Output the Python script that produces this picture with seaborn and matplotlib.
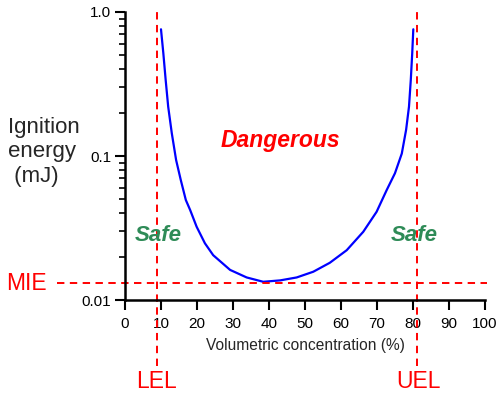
import matplotlib
matplotlib.use("Agg")
import matplotlib.pyplot as plt
import matplotlib.ticker as mticker
import pandas as pd
import seaborn as sns

# ignition energy curve
conc = [10.0, 10.65, 11.3, 12.0, 13.0, 14.2, 15.5, 16.9, 18.1, 19.9, 22.2,
        24.5, 29.2, 33.8, 38.4, 43.1, 47.7, 52.3, 56.9, 61.6, 66.2, 69.9,
        72.7, 75.0, 76.9, 78.1, 78.9, 79.4, 79.8, 80.1]
energy = [0.758, 0.517, 0.337, 0.220, 0.144, 0.0938, 0.0681, 0.0495, 0.0422,
          0.0323, 0.0248, 0.0205, 0.0162, 0.01436, 0.01340, 0.01370, 0.01436,
          0.01573, 0.01815, 0.0222, 0.0298, 0.0410, 0.058, 0.0759, 0.104,
          0.152, 0.220, 0.337, 0.517, 0.758]

lel = 8.8
uel = 81.2
mie = 0.0132

x_ticks = list(range(0, 101, 10))
y_ticks = [0.01, 0.1, 1.0]
y_labels = ["0.01", "0.1", "1.0"]

sns.set_theme(style="ticks")
plt.rcParams['font.family'] = ['Liberation Sans', 'DejaVu Sans']

df = pd.DataFrame({'Concentration': conc, 'Energy': energy})

fig = plt.figure(figsize=(5.02, 3.98), dpi=100)
ax = fig.add_axes([0.249, 0.246, 0.717, 0.724])

sns.lineplot(data=df, x='Concentration', y='Energy', color='#0000ff',
             linewidth=1.6, sort=False, ax=ax)

ax.set_yscale('log')
ax.set_xlim(0, 100)
ax.set_ylim(0.01, 1.0)

# dashed limit lines, running past the axes
dash = dict(color='#ff0000', linewidth=1.4, dashes=(3.8, 2.8), clip_on=False)
ax.plot([lel, lel], [0.0035, 1.0], **dash)
ax.plot([uel, uel], [0.0035, 1.0], **dash)
ax.plot([-18.9, 100.5], [mie, mie], **dash)

ax.set_xticks(x_ticks)
ax.yaxis.set_major_locator(mticker.FixedLocator(y_ticks))
ax.yaxis.set_major_formatter(mticker.FixedFormatter(y_labels))
ax.yaxis.set_minor_locator(mticker.LogLocator(base=10, subs=range(2, 10)))
ax.yaxis.set_minor_formatter(mticker.NullFormatter())

ax.tick_params(axis='both', which='major', length=7, width=1.5,
               direction='out', labelsize=11, colors='black', pad=3)
ax.tick_params(axis='x', which='major', pad=5)
ax.tick_params(axis='y', which='minor', length=4, width=1.2, color='black')

for side in ['top', 'right']:
    ax.spines[side].set_visible(False)
for side in ['left', 'bottom']:
    ax.spines[side].set_linewidth(1.8)
    ax.spines[side].set_color('black')

ax.set_xlabel('Volumetric concentration (%)', fontsize=11.2, labelpad=5)
ax.set_ylabel('')

# annotations
fig.text(8 / 502, 1 - 152 / 398, 'Ignition\nenergy\n (mJ)', fontsize=16,
         ha='left', va='center', linespacing=1.2)
ax.text(43.3, 0.129, 'Dangerous', color='#ff0000', fontsize=16.5,
        fontweight='bold', fontstyle='italic', ha='center', va='center')
ax.text(9.2, 0.028, 'Safe', color='#2e8b57', fontsize=16,
        fontweight='bold', fontstyle='italic', ha='center', va='center')
ax.text(80.3, 0.028, 'Safe', color='#2e8b57', fontsize=16,
        fontweight='bold', fontstyle='italic', ha='center', va='center')
fig.text(26 / 502, 1 - 283 / 398, 'MIE', color='#ff0000', fontsize=16.5,
         ha='center', va='center')
fig.text(157 / 502, 1 - 381 / 398, 'LEL', color='#ff0000', fontsize=16.5,
         ha='center', va='center')
fig.text(419 / 502, 1 - 381 / 398, 'UEL', color='#ff0000', fontsize=16.5,
         ha='center', va='center')

fig.savefig('out.png', dpi=100)
